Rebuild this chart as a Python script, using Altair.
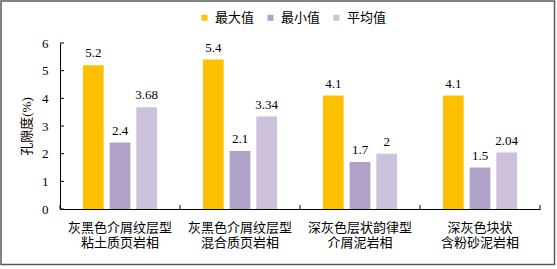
import altair as alt
import pandas as pd

categories = ["灰黑色介屑纹层型|粘土质页岩相", "灰黑色介屑纹层型|混合质页岩相",
              "深灰色层状韵律型|介屑泥岩相", "深灰色块状|含粉砂泥岩相"]
series = ["最大值", "最小值", "平均值"]
max_vals = [5.2, 5.4, 4.1, 4.1]
min_vals = [2.4, 2.1, 1.7, 1.5]
avg_vals = [3.68, 3.34, 2, 2.04]
colors = ["#FFC000", "#B1A0C7", "#CCC0DA"]
y_ticks = [0, 1, 2, 3, 4, 5, 6]

rows = []
for s, vals in zip(series, [max_vals, min_vals, avg_vals]):
    for c, v in zip(categories, vals):
        rows.append({"cat": c, "series": s, "value": v, "label": f"{v:g}"})
df = pd.DataFrame(rows)

FONT = "Liberation Serif, Noto Sans CJK SC"
W, H = 480, 166

x_axis = alt.Axis(title=None, labelExpr="split(datum.label, '|')", labelAngle=0,
                  ticks=False, labelPadding=12, labelFontSize=13, labelFont=FONT,
                  labelColor="#000", labelLineHeight=15, domainColor="#000",
                  labelBaseline="top")
y_axis = alt.Axis(values=y_ticks, title="孔隙度(%)", grid=False, ticks=False,
                  labelPadding=12, labelFontSize=13, labelFont=FONT, labelColor="#000",
                  titleFont=FONT, titleFontSize=13, titleFontWeight="normal",
                  titleColor="#000", titlePadding=8, domainColor="#000")
x_scale = alt.Scale(paddingInner=0, paddingOuter=0)
y_scale = alt.Scale(domain=[0, 6], nice=False)

x_main = alt.X("cat:N", sort=categories, scale=x_scale, axis=x_axis)
xo = alt.XOffset("series:N", sort=series, scale=alt.Scale(paddingInner=0.225, paddingOuter=0.86))
y_main = alt.Y("value:Q", scale=y_scale, axis=y_axis)
color = alt.Color("series:N", sort=series, scale=alt.Scale(domain=series, range=colors),
                  legend=alt.Legend(orient="none", direction="horizontal", legendX=138, legendY=-32,
                                    title=None, symbolType="square", symbolSize=36,
                                    labelFontSize=13, labelFont=FONT, labelColor="#000",
                                    columnPadding=9, symbolStrokeWidth=0))

base = alt.Chart(df)
bars = base.mark_bar().encode(x=x_main, xOffset=xo, y=y_main, color=color)
texts = base.mark_text(baseline="bottom", dy=-5, fontSize=13, font=FONT, color="#000").encode(
    x=x_main, xOffset=xo, y=y_main, text="label:N")

tick_df = pd.DataFrame({"value": y_ticks})
yticks = alt.Chart(tick_df).mark_rule(color="#000", strokeWidth=1).encode(
    y=alt.Y("value:Q", scale=y_scale, axis=y_axis), x=alt.value(0), x2=alt.value(4))

cat_df = pd.DataFrame({"cat": categories})
xticks = alt.Chart(cat_df).mark_rule(color="#000", strokeWidth=1).encode(
    x=alt.X("cat:N", sort=categories, bandPosition=0, scale=x_scale, axis=x_axis),
    y=alt.value(H), y2=alt.value(H - 4))
last_df = pd.DataFrame({"cat": categories[-1:]})
xtick_end = alt.Chart(last_df).mark_rule(color="#000", strokeWidth=1).encode(
    x=alt.X("cat:N", sort=categories, bandPosition=1, scale=x_scale, axis=x_axis),
    y=alt.value(H), y2=alt.value(H - 4))

frame = alt.Chart(alt.Data(values=[{"a": 1}])).mark_rect(
    filled=False, stroke="#595959", strokeWidth=1.5).encode(
    x=alt.value(-59), x2=alt.value(494.5), y=alt.value(-42), y2=alt.value(221.5))

chart = alt.layer(bars, texts, yticks, xticks, xtick_end, frame).properties(
    width=W, height=H, autosize="none",
    padding={"left": 60, "top": 43, "right": 17, "bottom": 60},
    background="white"
).configure_view(strokeWidth=0)

chart.save("out.html", embed_options={"renderer": "svg", "actions": False})
